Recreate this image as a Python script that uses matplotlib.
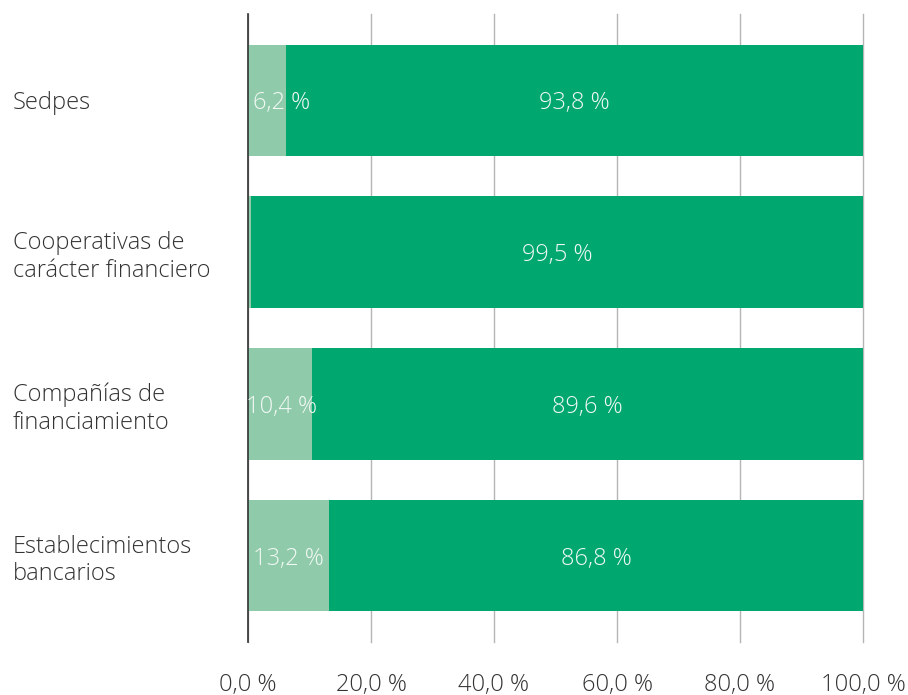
import matplotlib
matplotlib.use("Agg")
import matplotlib.pyplot as plt
from matplotlib.ticker import FuncFormatter

plt.rcParams['font.family'] = ['Open Sans', 'DejaVu Sans']

categories = ["Sedpes", "Cooperativas de\ncarácter financiero", "Compañías de\nfinanciamiento", "Establecimientos\nbancarios"]
light_vals = [6.2, 0.5, 10.4, 13.2]
dark_vals = [93.8, 99.5, 89.6, 86.8]
light_labels = ["6,2 %", "", "10,4 %", "13,2 %"]
dark_labels = ["93,8 %", "99,5 %", "89,6 %", "86,8 %"]
xticks = [0, 20, 40, 60, 80, 100]

LIGHT = "#8fcbaa"
DARK = "#00a870"
TXT = "#333333"
FS = 17

fig = plt.figure(figsize=(9.08, 6.95), dpi=100)
ax = fig.add_axes([248/908, 1-642/695, (863-248)/908, (642-14)/695])

y = list(range(len(categories)))
ax.barh(y, light_vals, height=0.737, color=LIGHT, zorder=2)
ax.barh(y, dark_vals, left=light_vals, height=0.737, color=DARK, zorder=2)

for i in y:
    if light_labels[i]:
        ax.text(max(light_vals[i] / 2, 5.5), i, light_labels[i], ha='center', va='center_baseline',
                color='#f2f8f4', fontsize=FS, fontweight='light', zorder=3)
    ax.text(light_vals[i] + dark_vals[i] / 2, i, dark_labels[i], ha='center', va='center_baseline',
            color='#f2f8f4', fontsize=FS, fontweight='light', zorder=3)

ax.set_xlim(0, 100)
ax.set_ylim(3.57, -0.57)
ax.set_xticks(xticks)
ax.xaxis.set_major_formatter(FuncFormatter(lambda v, p: f"{v:.1f}".replace('.', ',') + " %"))
ax.grid(axis='x', color='#b5b5b5', linewidth=1, zorder=1)
for gl in ax.get_xgridlines():
    gl.set_clip_on(False)
ax.set_axisbelow(True)

ax.set_yticks(y)
ax.set_yticklabels(categories, ha='left', fontsize=FS, fontweight='light', color=TXT, linespacing=1.2)
ax.tick_params(axis='y', length=0, pad=(248-13)*0.72)
ax.tick_params(axis='x', length=0, pad=22, labelsize=FS, labelcolor=TXT)
for lab in ax.get_xticklabels():
    lab.set_fontweight('light')

for s in ['top', 'right', 'bottom']:
    ax.spines[s].set_visible(False)
ax.spines['left'].set_color('#333333')
ax.spines['left'].set_linewidth(1.2)

fig.savefig("out.png", dpi=100)
